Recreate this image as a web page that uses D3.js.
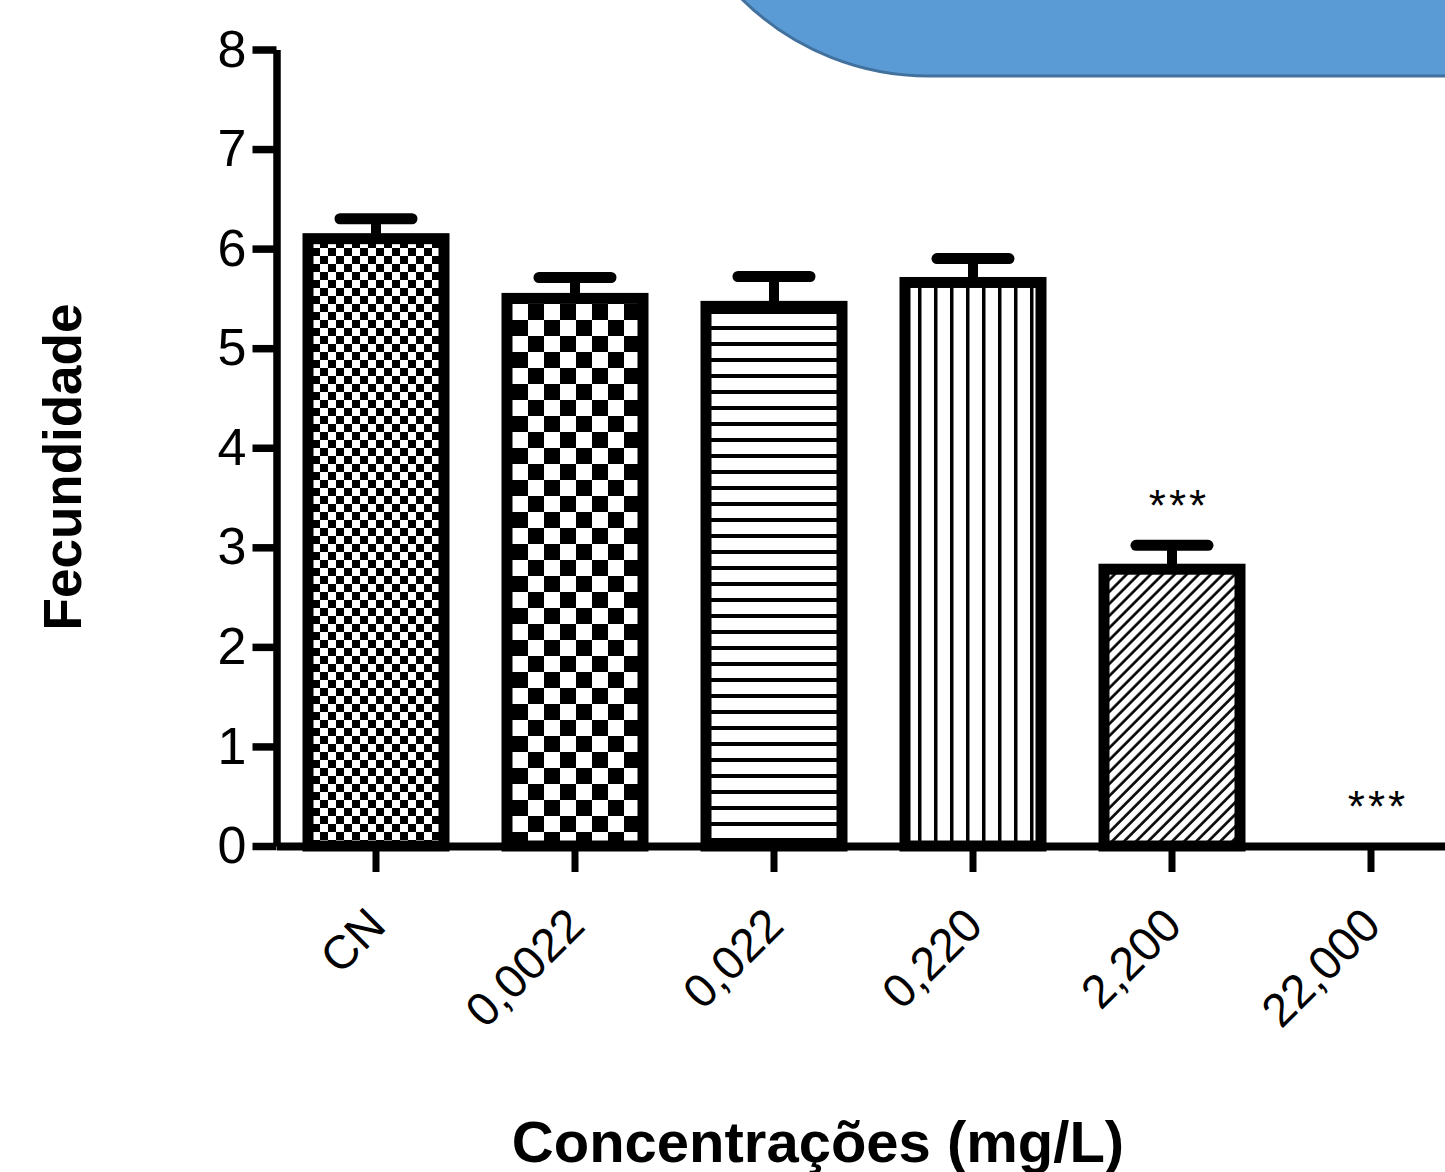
<!DOCTYPE html>
<html><head><meta charset="utf-8">
<script src="https://cdn.jsdelivr.net/npm/d3@7"></script>
<style>body{margin:0;background:#fff} svg{display:block}</style>
</head><body>
<script>
// ---- data ----
const categories = ["CN", "0,0022", "0,022", "0,220", "2,200", "22,000"];
const means = [6.10, 5.50, 5.42, 5.66, 2.78, 0];
const errors = [0.20, 0.21, 0.30, 0.24, 0.24, 0];
const significance = ["", "", "", "", "***", "***"];
const patternIds = ["fineCheck", "coarseCheck", "hLines", "vLines", "diag", "none"];
const yTicks = [0, 1, 2, 3, 4, 5, 6, 7, 8];
const yLabel = "Fecundidade";
const xLabel = "Concentrações (mg/L)";

const W = 1445, H = 1172;
const FONT = "'Liberation Sans', Arial, sans-serif";
const svg = d3.select("body").append("svg").attr("width", W).attr("height", H)
  .style("font-family", FONT);
const defs = svg.append("defs");

// patterns
function pat(id, w, h, extra) {
  const p = defs.append("pattern").attr("id", id).attr("patternUnits", "userSpaceOnUse")
    .attr("width", w).attr("height", h);
  p.append("rect").attr("width", w).attr("height", h).attr("fill", "#fff");
  extra(p);
  return p;
}
pat("fineCheck", 16, 16, p => {
  p.append("rect").attr("x", 0).attr("y", 0).attr("width", 8).attr("height", 8).attr("fill", "#000");
  p.append("rect").attr("x", 8).attr("y", 8).attr("width", 8).attr("height", 8).attr("fill", "#000");
});
pat("coarseCheck", 32, 32, p => {
  p.append("rect").attr("x", 0).attr("y", 0).attr("width", 16).attr("height", 16).attr("fill", "#000");
  p.append("rect").attr("x", 16).attr("y", 16).attr("width", 16).attr("height", 16).attr("fill", "#000");
});
pat("hLines", 16, 16, p => {
  p.append("rect").attr("x", 0).attr("y", 6).attr("width", 16).attr("height", 4).attr("fill", "#000");
});
pat("vLines", 16, 16, p => {
  p.append("rect").attr("x", 6).attr("y", 0).attr("width", 3.5).attr("height", 16).attr("fill", "#000");
});
pat("diag", 8.5, 8.5, p => {
  p.append("rect").attr("x", 3).attr("y", 0).attr("width", 2.6).attr("height", 8.5).attr("fill", "#000");
}).attr("patternTransform", "rotate(45)");

// decorative blue shape (top right)
svg.append("rect").attr("x", 663).attr("y", -500).attr("width", 1200).attr("height", 576)
  .attr("rx", 266).attr("ry", 266).attr("fill", "#5b9bd5").attr("stroke", "#41719c").attr("stroke-width", 3);

// scales
const x = d3.scaleBand().domain(categories).range([276.5, 1470.5]).padding(0);
const y = d3.scaleLinear().domain([0, 8]).range([846, 49.5]);
const cx = c => x(c) + x.bandwidth() / 2;
const barW = 136;

const data = categories.map((c, i) => ({ c, v: means[i], e: errors[i], s: significance[i], p: patternIds[i] }));
const shown = data.filter(d => d.v > 0);

// error bars
const eb = svg.append("g");
eb.selectAll("line.stem").data(shown).join("line")
  .attr("x1", d => cx(d.c)).attr("x2", d => cx(d.c))
  .attr("y1", d => y(d.v)).attr("y2", d => y(d.v + d.e))
  .attr("stroke", "#000").attr("stroke-width", 10);
eb.selectAll("line.cap").data(shown).join("line")
  .attr("x1", d => cx(d.c) - 36).attr("x2", d => cx(d.c) + 36)
  .attr("y1", d => y(d.v + d.e)).attr("y2", d => y(d.v + d.e))
  .attr("stroke", "#000").attr("stroke-width", 11).attr("stroke-linecap", "round");

// bars
svg.append("g").selectAll("rect").data(shown).join("rect")
  .attr("x", d => cx(d.c) - barW / 2).attr("width", barW)
  .attr("y", d => y(d.v)).attr("height", d => y(0) - y(d.v))
  .attr("fill", d => `url(#${d.p})`).attr("stroke", "#000").attr("stroke-width", 11);

// significance
svg.append("g").selectAll("text").data(data.filter(d => d.s)).join("text")
  .attr("x", d => cx(d.c) + 7).attr("y", d => y(d.v + d.e) - 24)
  .attr("text-anchor", "middle").attr("font-size", 44).attr("letter-spacing", 3)
  .attr("fill", "#000").text(d => d.s);

// y axis
const gy = svg.append("g").attr("transform", "translate(276.5,0)")
  .call(d3.axisLeft(y).tickValues(yTicks).tickFormat(d3.format("d")).tickSize(24).tickSizeOuter(0).tickPadding(6));
gy.select(".domain").attr("stroke", "#000").attr("stroke-width", 7.5);
gy.selectAll(".tick line").attr("stroke", "#000").attr("stroke-width", 7.5);
gy.selectAll(".tick text").attr("font-size", 52).attr("font-family", FONT).attr("fill", "#000");

// x axis
const gx = svg.append("g").attr("transform", "translate(0,846)")
  .call(d3.axisBottom(x).tickSize(26).tickSizeOuter(0));
gx.select(".domain").attr("stroke", "#000").attr("stroke-width", 8);
gx.selectAll(".tick line").attr("stroke", "#000").attr("stroke-width", 7);
gx.selectAll(".tick text").attr("font-size", 47).attr("font-family", FONT).attr("fill", "#000")
  .attr("text-anchor", "end").attr("y", 0).attr("dy", 0)
  .attr("transform", "translate(12,82) rotate(-45)");

// axis titles
svg.append("text").attr("transform", "translate(81,467) rotate(-90)")
  .attr("text-anchor", "middle").attr("font-size", 53).attr("font-weight", "bold").text(yLabel);
svg.append("text").attr("x", 818).attr("y", 1162)
  .attr("text-anchor", "middle").attr("font-size", 58).attr("font-weight", "bold").text(xLabel);
</script>
</body></html>
